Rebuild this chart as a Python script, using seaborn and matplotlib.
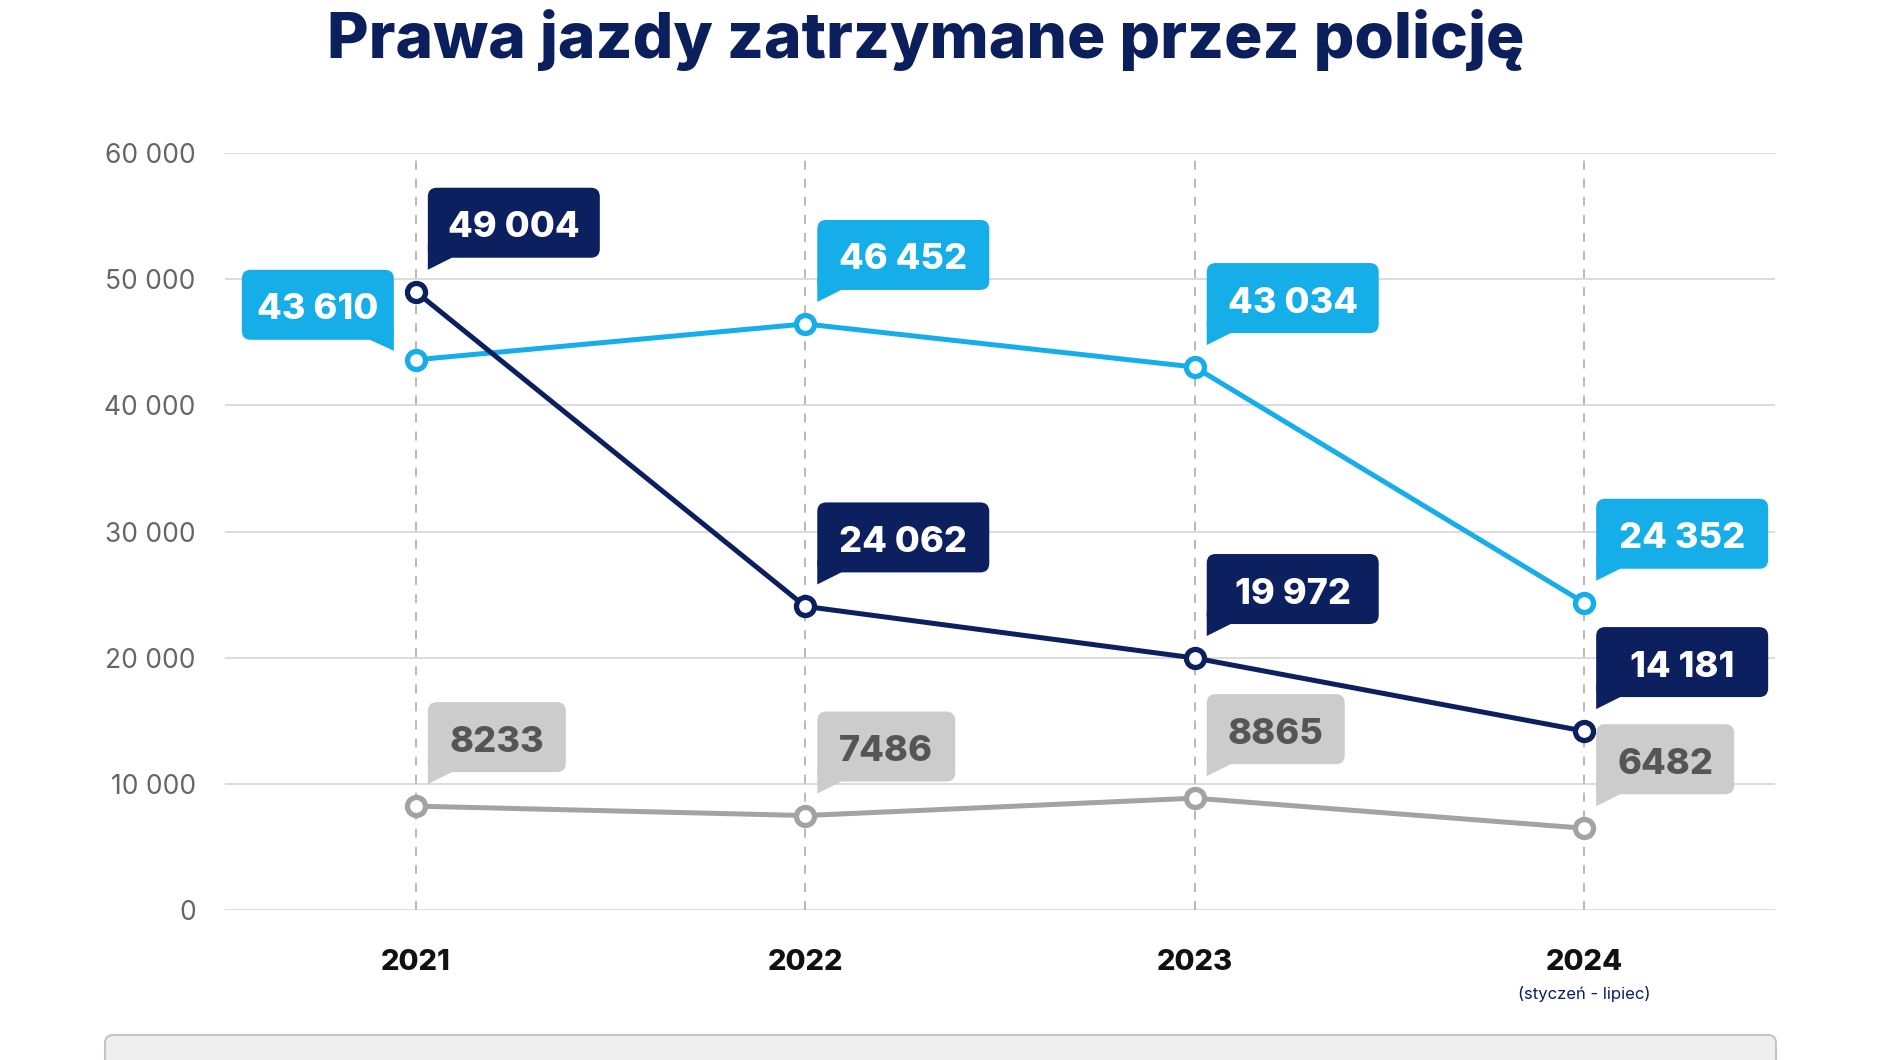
import numpy as np
import pandas as pd
import seaborn as sns
import matplotlib.pyplot as plt
import matplotlib.transforms as mtransforms
from matplotlib.patches import FancyBboxPatch, Polygon

years = ['2021', '2022', '2023', '2024']
navy_vals = [49004, 24062, 19972, 14181]
blue_vals = [43610, 46452, 43034, 24352]
gray_vals = [8233, 7486, 8865, 6482]
y_ticks = [0, 10000, 20000, 30000, 40000, 50000, 60000]

NAVY = '#0c1f5e'
BLUE = '#15aee9'
GRAY = '#a3a3a3'
DPI = 100

sns.set_style('white')
plt.rcParams['font.family'] = ['Inter', 'DejaVu Sans']

df = pd.DataFrame({
    'rok': list(range(4)) * 3,
    'liczba': blue_vals + gray_vals + navy_vals,
    'seria': ['B'] * 4 + ['C'] * 4 + ['A'] * 4,
})

fig = plt.figure(figsize=(18.8, 10.6), dpi=DPI)
ax = fig.add_axes([225 / 1880, 1 - 910 / 1060, (1775 - 225) / 1880, (910 - 153) / 1060])

# vertical dashed guides
for i in range(len(years)):
    ax.axvline(i, color='#b3b3b3', lw=1.3, ls=(0, (5, 5)), zorder=1)

colors = {'B': BLUE, 'C': GRAY, 'A': NAVY}
for name in ['C', 'B', 'A']:
    sub = df[df['seria'] == name]
    sns.lineplot(data=sub, x='rok', y='liczba', color=colors[name], lw=3.6,
                 marker='o', markersize=13, markerfacecolor='white',
                 markeredgecolor=colors[name], markeredgewidth=3.8,
                 ax=ax, zorder=3)


def fmt(v):
    return f'{v:,}'.replace(',', ' ') if v >= 10000 else str(v)


def callout(x, y, label, fc, tc, side='right'):
    tr = fig.dpi_scale_trans + mtransforms.ScaledTranslation(x, y, ax.transData)
    px = 1 / DPI
    w = (172 if len(label) > 4 else 138) * px
    h = 70 * px
    if side == 'right':
        gap = 34 * px
        x0 = 12 * px
        tail = [(x0, gap + 12 * px), (x0 + 24 * px, gap + 12 * px),
                (x0 + 24 * px, gap), (x0, gap - 12 * px)]
    else:
        gap = 20 * px
        x1 = -22 * px
        x0 = x1 - 152 * px
        w = 152 * px
        tail = [(x1, gap + 12 * px), (x1 - 24 * px, gap + 12 * px),
                (x1 - 24 * px, gap), (x1, gap - 11 * px)]
    box = FancyBboxPatch((x0, gap), w, h,
                         boxstyle=f'round,pad=0,rounding_size={9 * px}',
                         fc=fc, ec='none', transform=tr, zorder=5, clip_on=False)
    ax.add_patch(box)
    ax.add_patch(Polygon(tail, closed=True, fc=fc, ec='none', transform=tr,
                         zorder=5, clip_on=False))
    ax.text(x0 + w / 2, gap + h / 2 - 5 * px, label, transform=tr, ha='center', va='center',
            fontsize=26, fontweight='heavy', color=tc, zorder=6)


for i, v in enumerate(navy_vals):
    callout(i, v, fmt(v), NAVY, 'white')
for i, v in enumerate(blue_vals):
    callout(i, v, fmt(v), BLUE, 'white', side='left' if i == 0 else 'right')
for i, v in enumerate(gray_vals):
    callout(i, v, fmt(v), '#cccccc', '#555555')

ax.set_xlim(-0.49, 3.49)
ax.set_ylim(0, 60000)
ax.set_yticks(y_ticks)
ax.set_yticklabels([fmt(v) if v >= 10000 else str(v) for v in y_ticks],
                   color='#666666', fontsize=19)
ax.set_xticks(range(len(years)))
ax.set_xticklabels(years, fontsize=21, fontweight='heavy', color='#111111')
ax.tick_params(axis='y', length=0, pad=21)
ax.tick_params(axis='x', length=0, pad=28)
ax.yaxis.grid(True, color='#dcdcdc', lw=1.4, zorder=0)
ax.xaxis.grid(False)
ax.set_axisbelow(True)
for s in ax.spines.values():
    s.set_visible(False)
ax.set_xlabel('')
ax.set_ylabel('')
if ax.get_legend():
    ax.get_legend().remove()

ax.annotate('(styczeń - lipiec)', xy=(3, 0), xycoords=('data', 'axes fraction'),
            xytext=(0, -84), textcoords='offset pixels', ha='center', va='center',
            fontsize=12, color=NAVY)

fig.text(926 / 1880, 1 - 40 / 1060, 'Prawa jazdy zatrzymane przez policję',
         ha='center', va='center', fontsize=46, fontweight='heavy', color='#0b1f5c')

fig.patches.append(FancyBboxPatch((1.05, -0.3), 16.71, 0.55,
                                  boxstyle='round,pad=0,rounding_size=0.08',
                                  transform=fig.dpi_scale_trans, figure=fig,
                                  fc='#efefef', ec='#c4c4c4', lw=1.5))

fig.savefig('out.png', dpi=DPI)
